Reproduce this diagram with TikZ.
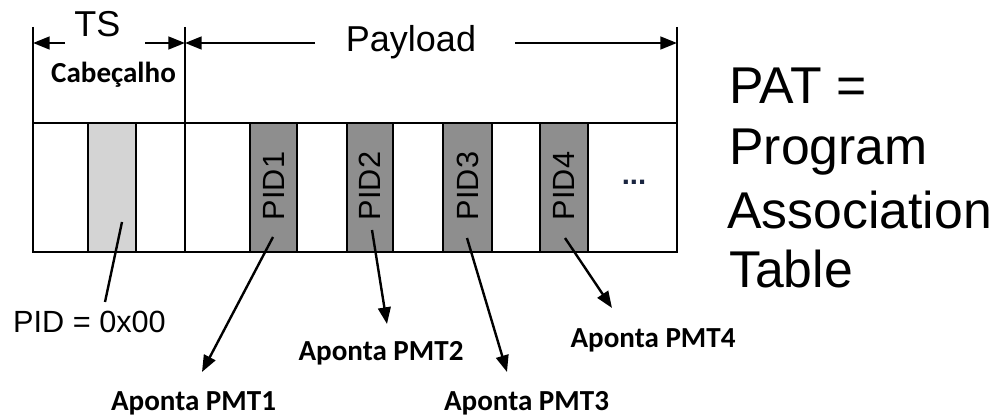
\documentclass[tikz,border=0pt]{standalone}
\usepackage{fontspec}
\setmainfont{Liberation Sans}
\newfontfamily\boldlbl{Carlito}[BoldFont={Carlito Bold}]
\usetikzlibrary{arrows.meta}
\tikzset{
  frame/.style={line width=2.1pt, draw=black},
  headline/.style={line width=2pt, draw=black},
  dimarrow/.style={line width=1.9pt, -{Triangle[length=12.5pt,width=9.5pt]}},
  ptr/.style={line width=1.8pt, -{Triangle[length=12.5pt,width=9.5pt]}},
  plain/.style={line width=1.8pt},
  bigtxt/.style={inner sep=0pt, anchor=base, font=\fontsize{27}{30}\selectfont},
  boldtxt/.style={inner sep=0pt, anchor=base, font=\boldlbl\bfseries\fontsize{21.8}{24}\selectfont},
  pidtxt/.style={inner sep=0pt, rotate=90, font=\fontsize{23}{26}\selectfont},
  pattxt/.style={inner sep=0pt, anchor=base west, font=\fontsize{38.8}{44}\selectfont},
}
\definecolor{lightcell}{HTML}{D4D4D4}
\definecolor{darkcell}{HTML}{8E8E8E}
\definecolor{dotcol}{HTML}{1A2540}
\begin{document}
\begin{tikzpicture}[x=0.75pt,y=-0.75pt]
\useasboundingbox (0,0) rectangle (1006,416);
% header
\draw[headline] (33,27) -- (33,123);
\draw[headline] (185,27) -- (185,123);
\draw[headline] (677,27) -- (677,123);
\node[bigtxt] (ts) at (97.5,37) {TS};
\node[bigtxt] (payload) at (411,52) {Payload};
\node[boldtxt] (cab) at (113.5,83) {Cabeçalho};
\coordinate (l0) at (33,43);
\coordinate (l1) at (65,43);
\coordinate (l2) at (145,43);
\coordinate (l3) at (185,43);
\coordinate (l4) at (315,43);
\coordinate (l5) at (515,43);
\coordinate (l6) at (677,43);
\draw[dimarrow] (l1) -- (l0);
\draw[dimarrow] (l2) -- (l3);
\draw[dimarrow] (l4) -- (l3);
\draw[dimarrow] (l5) -- (l6);
% strip
\fill[lightcell] (88,123) rectangle (136,252);
\fill[darkcell] (250,123) rectangle (297,252);
\fill[darkcell] (347,123) rectangle (393,252);
\fill[darkcell] (443,123) rectangle (492,252);
\fill[darkcell] (540,123) rectangle (588,252);
\draw[frame] (33,123) rectangle (677,252);
\foreach \x in {88,136,185,250,297,347,393,443,492,540,588}
  \draw[frame] (\x,123) -- (\x,252);
\node[pidtxt] (p1) at (273.5,186) {PID1};
\node[pidtxt] (p2) at (370,186) {PID2};
\node[pidtxt] (p3) at (467.5,186) {PID3};
\node[pidtxt] (p4) at (564,186) {PID4};
\node[inner sep=0pt, text=dotcol, font=\bfseries\fontsize{22}{24}\selectfont] (dots) at (634,182) {...};
% pointers
\coordinate (g0) at (122,222);
\coordinate (g1) at (105,302);
\draw[plain] (g0) -- (g1);
\coordinate (s1) at (273,237);
\coordinate (t1) at (202,372);
\coordinate (s2) at (372,230);
\coordinate (t2) at (387,324);
\coordinate (s3) at (467,238);
\coordinate (t3) at (507,372);
\coordinate (s4) at (565,238);
\coordinate (t4) at (612,308);
\draw[ptr] (s1) -- (t1);
\draw[ptr] (s2) -- (t2);
\draw[ptr] (s3) -- (t3);
\draw[ptr] (s4) -- (t4);
\node[inner sep=0pt, anchor=base, font=\fontsize{23}{26}\selectfont] (pid0) at (89.5,333) {PID = 0x00};
\node[boldtxt] (a1) at (193.5,410) {Aponta PMT1};
\node[boldtxt] (a2) at (381,360) {Aponta PMT2};
\node[boldtxt] (a3) at (526.5,410) {Aponta PMT3};
\node[boldtxt] (a4) at (653,348) {Aponta PMT4};
% PAT text
\node[pattxt] (pat1) at (729,104) {PAT =};
\node[pattxt] (pat2) at (729,165) {Program};
\node[pattxt] (pat3) at (727,229) {Association};
\node[pattxt] (pat4) at (729,288) {Table};
\end{tikzpicture}
\end{document}
